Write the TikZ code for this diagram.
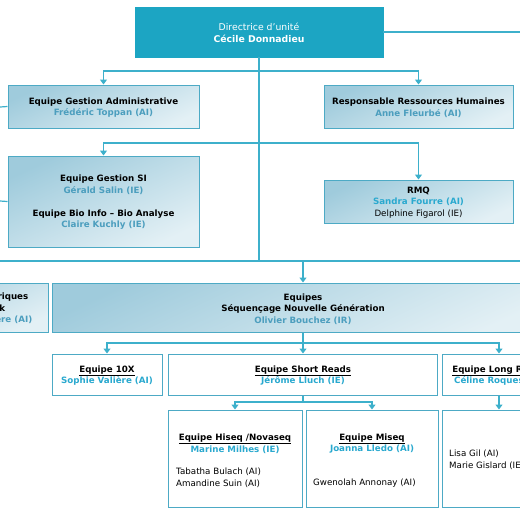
\documentclass[tikz,border=0pt]{standalone}
\usepackage{fontspec}
\setmainfont{DejaVu Sans}
\usetikzlibrary{arrows.meta}
\definecolor{topfill}{HTML}{1CA5C3}
\definecolor{linec}{HTML}{3DB0CB}
\definecolor{bordc}{HTML}{4DAAC5}
\definecolor{gtop}{HTML}{9FCBDC}
\definecolor{gbot}{HTML}{E3F0F5}
\definecolor{nameb}{HTML}{4C9EBE}
\definecolor{namew}{HTML}{2AA9CF}
\newcommand{\ul}[1]{\underline{\textbf{#1}}}
\begin{document}
\begin{tikzpicture}[x=1pt,y=-1pt,
  every node/.style={font=\fontsize{8.7}{11.6}\selectfont, inner sep=0pt},
  gbox/.style={draw=bordc, line width=1pt, top color=gtop, bottom color=gbot, shading angle=25},
  wbox/.style={draw=bordc, line width=1pt, fill=white},
  txt/.style={align=center},
  conn/.style={draw=linec, line width=1.2pt},
  arr/.style={conn, -{Triangle[width=7pt,length=5pt]}}]
\useasboundingbox (0,0) rectangle (520,520);
\clip (0,0) rectangle (520,520);
\fill[white] (0,0) rectangle (520,520);

% coordinates
\coordinate (rEdge) at (520,32);
\coordinate (busL) at (0,261);
\coordinate (busR) at (520,261);
\coordinate (j1) at (259,71);
\coordinate (j2) at (259,143);
\coordinate (j3) at (303,261);
\coordinate (j4) at (303,343);
\coordinate (j5) at (303,402);
\coordinate (lA) at (0,107);
\coordinate (lS) at (0,201);

% boxes
\node[draw=topfill, fill=topfill, minimum width=248pt, minimum height=50pt] (top) at (259,32) {};
\node[gbox, minimum width=191pt, minimum height=43pt] (admin) at (103.5,106.5) {};
\node[gbox, minimum width=189pt, minimum height=43pt] (rh) at (418.5,106.5) {};
\node[gbox, minimum width=191pt, minimum height=91pt] (si) at (103.5,201.5) {};
\node[gbox, minimum width=189pt, minimum height=43pt] (rmq) at (418.5,201.5) {};
\node[gbox, minimum width=188pt, minimum height=49pt] (leftp) at (-46,307.5) {};
\node[gbox, minimum width=502pt, minimum height=49pt] (equipes) at (303,307.5) {};
\node[wbox, minimum width=110pt, minimum height=41pt] (tenx) at (107,374.5) {};
\node[wbox, minimum width=269pt, minimum height=41pt] (short) at (302.5,374.5) {};
\node[wbox, minimum width=114pt, minimum height=41pt] (long) at (499,374.5) {};
\node[wbox, minimum width=134pt, minimum height=97pt] (hiseq) at (235,458.5) {};
\node[wbox, minimum width=132pt, minimum height=97pt] (miseq) at (372,458.5) {};
\node[wbox, minimum width=114pt, minimum height=97pt] (longsub) at (499,458.5) {};

% texts
\node[txt, text=white, font=\fontsize{9.3}{12.5}\selectfont] (toptxt) at (259,33) {Directrice d’unité\\\textbf{Cécile Donnadieu}};
\node[txt] (admintxt) at (103.5,107.5) {\textbf{Equipe Gestion Administrative}\\\textcolor{nameb}{\textbf{Frédéric Toppan (AI)}}};
\node[txt] (rhtxt) at (418.5,107.5) {\textbf{Responsable Ressources Humaines}\\\textcolor{nameb}{\textbf{Anne Fleurbé (AI)}}};
\node[txt] (sitxt1) at (103.5,184.5) {\textbf{Equipe Gestion SI}\\\textcolor{nameb}{\textbf{Gérald Salin (IE)}}};
\node[txt] (sitxt2) at (103.5,219.5) {\textbf{Equipe Bio Info – Bio Analyse}\\\textcolor{nameb}{\textbf{Claire Kuchly (IE)}}};
\node[txt] (rmqtxt) at (418.5,202.5) {\textbf{RMQ}\\\textcolor{namew}{\textbf{Sandra Fourre (AI)}}\\Delphine Figarol (IE)};
\node[anchor=east] (lp1) at (28.5,297) {\textbf{Equipe Ressources Numériques}};
\node[anchor=east] (lp2) at (5.5,308.5) {\textbf{Animation Network}};
\node[anchor=east] (lp3) at (32.5,320) {\textcolor{nameb}{\textbf{Nathalie Lhuillière (AI)}}};
\node[txt] (eqtxt) at (303,309) {\textbf{Equipes}\\\textbf{Séquençage Nouvelle Génération}\\\textcolor{nameb}{\textbf{Olivier Bouchez (IR)}}};
\node[txt] (tenxtxt) at (107,375.5) {\ul{Equipe 10X}\\\textcolor{namew}{\textbf{Sophie Valière (AI)}}};
\node[txt] (shorttxt) at (303,375.5) {\ul{Equipe Short Reads}\\\textcolor{namew}{\textbf{Jérôme Lluch (IE)}}};
\node[txt] (longtxt) at (499,375.5) {\ul{Equipe Long Reads}\\\textcolor{namew}{\textbf{Céline Roques (IE)}}};
\node[txt] (hiseqtxt) at (235,443.5) {\ul{Equipe Hiseq /Novaseq}\\\textcolor{namew}{\textbf{Marine Milhes (IE)}}};
\node[txt] (miseqtxt) at (372,443.5) {\ul{Equipe Miseq}\\\textcolor{namew}{\textbf{Joanna Lledo (AI)}}};
\node[anchor=west, align=left] (hiseqstaff) at (176,477.5) {Tabatha Bulach (AI)\\Amandine Suin (AI)};
\node[anchor=west] (miseqstaff) at (313,483.5) {Gwenolah Annonay (AI)};
\node[anchor=west, align=left] (longstaff) at (449,459.5) {Lisa Gil (AI)\\Marie Gislard (IE)};

% connectors
\draw[conn] (top.east) -- (rEdge);
\draw[conn] (top.south) -- (top.south |- busL);
\draw[conn] (busL) -- (busR);
\draw[arr] (j1) -| (admin.north);
\draw[arr] (j1) -| (rh.north);
\draw[arr] (j2) -| (si.north);
\draw[arr] (j2) -| (rmq.north);
\draw[conn] (admin.west) -- (lA);
\draw[conn] (si.west) -- (lS);
\draw[arr] (j3) -- (equipes.north);
\draw[conn] (equipes.south) -- (j4);
\draw[arr] (j4) -| (tenx.north);
\draw[arr] (j4) -- (short.north -| j4);
\draw[arr] (j4) -| (long.north);
\draw[conn] (short.south -| j5) -- (j5);
\draw[arr] (j5) -| (hiseq.north);
\draw[arr] (j5) -| (miseq.north);
\draw[arr] (long.south) -- (longsub.north);
\end{tikzpicture}
\end{document}
